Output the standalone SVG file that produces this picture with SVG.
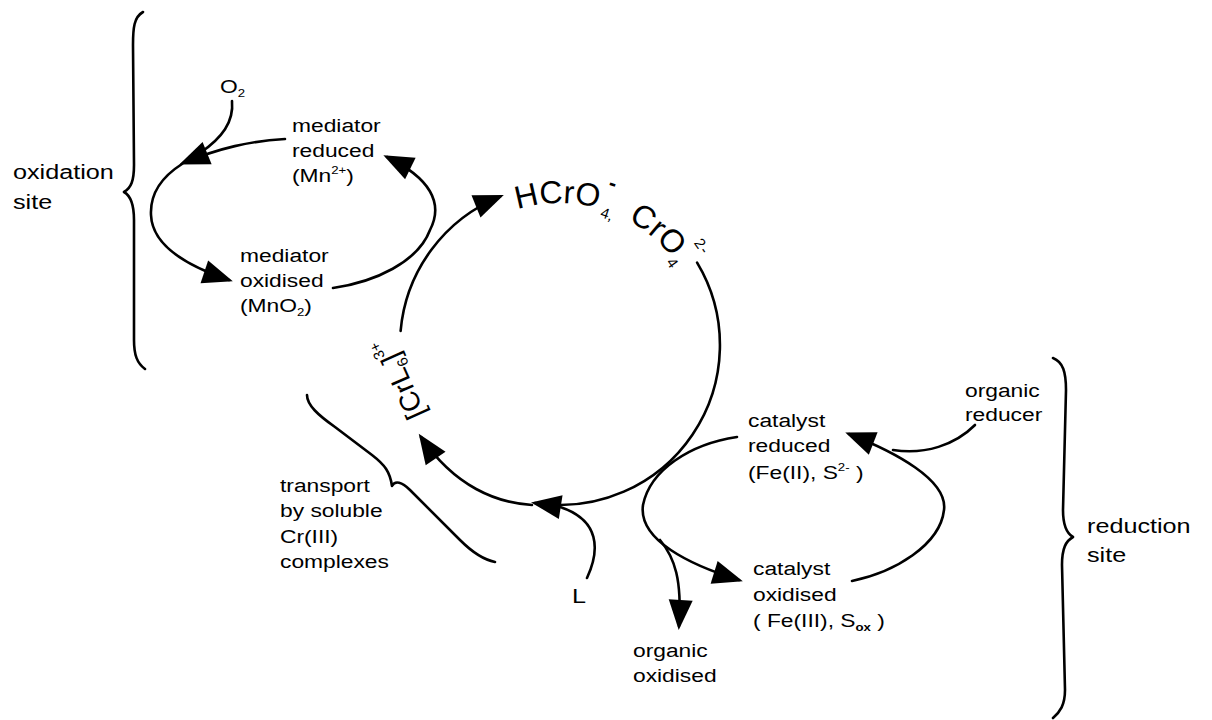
<svg xmlns="http://www.w3.org/2000/svg" width="1212" height="720" viewBox="0 0 1212 720">
<style>
  .ln { fill: none; stroke: #000; stroke-width: 2.6; stroke-linecap: round; }
  .br { fill: none; stroke: #000; stroke-width: 2.6; stroke-linecap: round; stroke-linejoin: round; }
  .t { font-family: "Liberation Sans", Arial, Helvetica, sans-serif; font-size: 19px; fill: #000; }
  .site { font-family: "Liberation Sans", Arial, Helvetica, sans-serif; font-size: 21px; fill: #000; }
  .chem { font-family: "Liberation Sans", Arial, Helvetica, sans-serif; font-size: 32px; fill: #000; }
  .cr { font-family: "Liberation Sans", Arial, Helvetica, sans-serif; font-size: 28px; fill: #000; }
  .sm { font-size: 11px; }
  .sm2 { font-size: 15px; }
</style>
<defs>
  <marker id="ah" markerUnits="userSpaceOnUse" viewBox="-28 -13 34 26" markerWidth="34" markerHeight="26" refX="0" refY="0" orient="auto">
    <path d="M4,0 L-26,-12 L-26,12 Z" fill="#000"/>
  </marker>
  <path id="arc" d="M468.7,236.2 A142,142 0 0 1 693.4,296.4"/>
</defs>

<g id="connectors">
  <!-- main Cr cycle -->
  <path class="ln" d="M400.6,331 A160,160 0 0 1 500.1,196.6" marker-end="url(#ah)"/>
  <path class="ln" d="M697.1,262.6 A160,160 0 0 1 535,503" marker-end="url(#ah)"/>
  <path class="ln" d="M532,505 C497,503 455,487 421,437" marker-end="url(#ah)"/>
  <path class="ln" d="M587,578 C600,550 600,520 560,507"/>
  <!-- oxidation loop -->
  <path class="ln" d="M285,139 C250,141 220,148 183,163" marker-end="url(#ah)"/>
  <path class="ln" d="M232,101 C234,122 222,138 200,153"/>
  <path class="ln" d="M182,164 C160,178 150,195 151,215 C152,240 175,262 229,280" marker-end="url(#ah)"/>
  <path class="ln" d="M333,288 C375,282 418,262 430,230 C444,203 430,178 387,157" marker-end="url(#ah)"/>
  <!-- reduction loop -->
  <path class="ln" d="M737,437 C690,444 650,470 643,505 C638,540 690,565 739,580" marker-end="url(#ah)"/>
  <path class="ln" d="M660,540 C675,558 682,580 679,626" marker-end="url(#ah)"/>
  <path class="ln" d="M852,581 C895,572 940,545 944,510 C948,480 895,452 849,434" marker-end="url(#ah)"/>
  <path class="ln" d="M975,425 C955,445 925,455 893,450"/>
</g>

<g id="oxidation-site">
  <path class="br" d="M143,12 C134,17 133,28 133,45 L134,165 C134,181 131,188 124,192 C131,196 134,204 134,220 L134,340 C134,355 137,363 145,369"/>
  <text class="site" transform="matrix(1.2 0 0 1 13 179)"><tspan x="0">oxidation</tspan><tspan x="0" dy="30">site</tspan></text>
</g>

<g id="o2">
  <text class="t" transform="matrix(1.2 0 0 1 220 93)">O<tspan class="sm" dy="4">2</tspan></text>
</g>

<g id="mediator-reduced">
  <text class="t" transform="matrix(1.2 0 0 1 292 132)"><tspan x="0">mediator</tspan><tspan x="0" dy="25">reduced</tspan><tspan x="0" dy="25">(Mn</tspan><tspan class="sm" dy="-8">2+</tspan><tspan dy="8">)</tspan></text>
</g>

<g id="mediator-oxidised">
  <text class="t" transform="matrix(1.2 0 0 1 240 262)"><tspan x="0">mediator</tspan><tspan x="0" dy="25">oxidised</tspan><tspan x="0" dy="25">(MnO</tspan><tspan class="sm" dy="4">2</tspan><tspan dy="-4">)</tspan></text>
</g>

<g id="chromate">
  <text class="chem"><textPath href="#arc" startOffset="56">HCrO<tspan class="sm2" dx="4" dy="8">4,</tspan><tspan dx="-14" dy="-29" style="font-size:22px;font-weight:bold">-</tspan><tspan dx="22" dy="21">CrO</tspan><tspan class="sm2" dy="8">4</tspan><tspan class="sm2" dx="-8" dy="-34">2-</tspan></textPath></text>
</g>

<g id="crl6">
  <text class="cr" transform="translate(426,414) rotate(-114)">[CrL<tspan class="sm2" dy="5">6</tspan><tspan dy="-5">]</tspan><tspan class="sm2" dy="-14">3+</tspan></text>
</g>

<g id="transport">
  <path class="br" d="M307,395 C307,405 318,415 335,427 L372,455 C385,465 390,472 392,486 C395,480 402,482 410,490 L460,540 C475,555 485,560 495,562"/>
  <text class="t" transform="matrix(1.2 0 0 1 280 492)"><tspan x="0">transport</tspan><tspan x="0" dy="25">by soluble</tspan><tspan x="0" dy="26">Cr(III)</tspan><tspan x="0" dy="25">complexes</tspan></text>
</g>

<g id="ligand">
  <text class="t" transform="matrix(1.2 0 0 1 572 603)" style="font-size:21px">L</text>
</g>

<g id="catalyst-reduced">
  <text class="t" transform="matrix(1.2 0 0 1 748 427)"><tspan x="0">catalyst</tspan><tspan x="0" dy="25">reduced</tspan><tspan x="0" dy="27">(Fe(II), S</tspan><tspan class="sm" dy="-8">2-</tspan><tspan dy="8"> )</tspan></text>
</g>

<g id="organic-reducer">
  <text class="t" transform="matrix(1.2 0 0 1 965 397)"><tspan x="0">organic</tspan><tspan x="0" dy="24">reducer</tspan></text>
</g>

<g id="catalyst-oxidised">
  <text class="t" transform="matrix(1.2 0 0 1 753 575)"><tspan x="0">catalyst</tspan><tspan x="0" dy="26">oxidised</tspan><tspan x="0" dy="26">( Fe(III), S</tspan><tspan class="sm" dy="4" style="font-weight:bold">ox</tspan><tspan dy="-4"> )</tspan></text>
</g>

<g id="organic-oxidised">
  <text class="t" transform="matrix(1.2 0 0 1 633 657)"><tspan x="0">organic</tspan><tspan x="0" dy="25">oxidised</tspan></text>
</g>

<g id="reduction-site">
  <path class="br" d="M1053,358 C1063,362 1066,372 1066,390 L1063,510 C1063,525 1066,533 1073,537 C1066,541 1062,548 1062,565 L1065,690 C1065,705 1060,712 1053,718"/>
  <text class="site" transform="matrix(1.2 0 0 1 1087 533)"><tspan x="0">reduction</tspan><tspan x="0" dy="29">site</tspan></text>
</g>
</svg>
